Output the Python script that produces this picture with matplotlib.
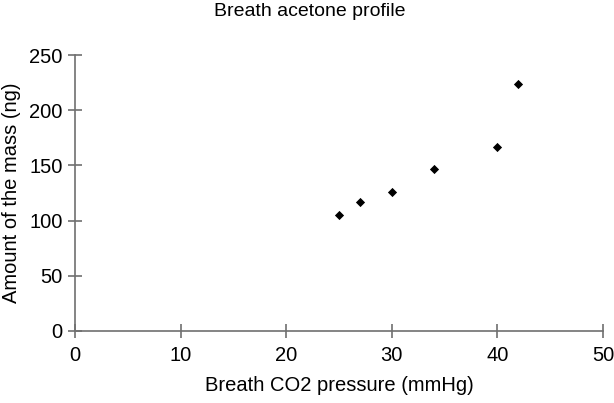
import matplotlib
matplotlib.use("Agg")
import matplotlib.pyplot as plt

co2 = [25, 27, 30, 34, 40, 42]
acetone = [105, 117, 126, 147, 167, 224]
xticks = [0, 10, 20, 30, 40, 50]
yticks = [0, 50, 100, 150, 200, 250]

plt.rcParams['font.family'] = ['Liberation Sans', 'DejaVu Sans']
fig = plt.figure(figsize=(6.14, 4.03), dpi=100)
ax = fig.add_axes([0.122, 0.179, 0.860, 0.6845])
ax.scatter(co2, acetone, marker='D', s=22, color='black', zorder=3, linewidths=0)
ax.set_xlim(0, 50)
ax.set_ylim(0, 250)
ax.set_xticks(xticks)
ax.set_yticks(yticks)
for s in ['top', 'right']:
    ax.spines[s].set_visible(False)
for s in ['left', 'bottom']:
    ax.spines[s].set_color('#707070')
    ax.spines[s].set_linewidth(1.2)
ax.tick_params(axis='both', direction='inout', length=10, width=1.2, color='#707070', labelsize=14.5)
ax.tick_params(axis='x', pad=6)
ax.tick_params(axis='y', pad=4)
ax.set_xlabel('Breath CO2 pressure (mmHg)', fontsize=14.5, labelpad=8)
ax.set_ylabel('Amount of the mass (ng)', fontsize=14.5, labelpad=6)
fig.text(310 / 614, 1 - 11 / 403, 'Breath acetone profile', ha='center', va='center', fontsize=14)
fig.savefig('out.png', dpi=100)
